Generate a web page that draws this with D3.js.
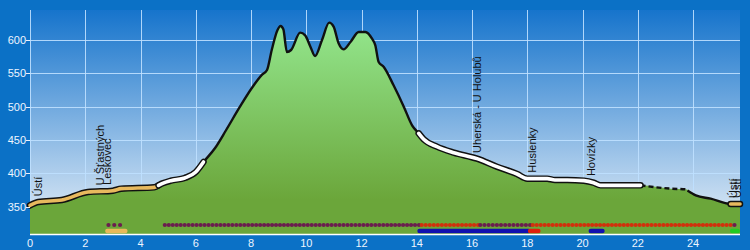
<!DOCTYPE html>
<html>
<head>
<meta charset="utf-8">
<script src="https://cdn.jsdelivr.net/npm/d3@7"></script>
<style>
  body { margin: 0; background: #0b71c6; }
  svg { display: block; font-family: "Liberation Sans", Arial, sans-serif; }
</style>
</head>
<body>
<svg id="chart" width="750" height="250"></svg>
<script>
// profile: distance (km) / elevation (m)
const distKm = [0, 0.3, 1.15, 2.1, 3.0, 3.3, 4.5, 4.8, 5.1, 5.6, 6.0, 6.28, 6.7, 7.1, 7.6, 8.03, 8.4, 8.58, 8.75, 8.96, 9.07, 9.17, 9.3, 9.45, 9.78, 9.96, 10.15, 10.32, 10.57, 10.83, 10.99, 11.17, 11.35, 11.6, 11.9, 12.14, 12.38, 12.5, 12.62, 12.8, 13.16, 13.53, 13.83, 14.07, 14.25, 14.73, 15.34, 16.18, 16.9, 17.63, 18.0, 18.72, 19.0, 19.45, 20.05, 20.4, 20.65, 22.1, 23.2, 23.73, 24.1, 24.64, 25.36, 25.7];
const elevM  = [352, 357, 360, 372, 374, 377, 379, 385, 389, 393, 402, 417, 438, 465, 500, 528, 548, 555, 585, 615, 621, 616, 582, 585, 611, 607, 590, 576, 600, 626, 620, 595, 586, 597, 612, 612, 602, 592, 567, 560, 532, 500, 472, 460, 451, 440, 431, 422, 410, 399, 392, 392, 390, 390, 389, 386, 382, 382, 377, 376, 367, 362, 354, 354];

// highlighted parts of the line
const lineFrom = [0, 4.65, 14.07, 25.36];
const lineTo   = [4.65, 6.28, 22.1, 25.7];
const lineKind = ["tan", "white", "white", "tan"];
const dashFrom = 22.1, dashTo = 23.8;

// waypoint labels
const placeNames = ["Ústí", "U Šťastných", "Leskovec", "Uherská - U Holubů", "Huslenky", "Hovízky", "Ústí", "Ústí"];
const placeKm    = [0.28, 2.55, 2.8, 16.2, 18.17, 20.3, 25.45, 25.58];

// dotted row
const dotFrom  = [2.84, 4.88, 14.18, 16.3, 18.2, 25.5];
const dotTo    = [3.26, 14.08, 16.22, 18.1, 25.36, 25.5];
const dotColor = ["#6b1d4f", "#6b1d4f", "#d2300c", "#6b1d4f", "#d2300c", "#6b1d4f"];

// bar row
const barFrom  = [2.8, 14.1, 18.1, 20.3, 25.42];
const barTo    = [3.45, 18.05, 18.4, 20.72, 25.62];
const barColor = ["#e8b95a", "#1111b0", "#e0200c", "#1111b0", "#22cc22"];

const xTicks = [0, 2, 4, 6, 8, 10, 12, 14, 16, 18, 20, 22, 24];
const yTicks = [350, 400, 450, 500, 550, 600];

const svg = d3.select("#chart");
const x = d3.scaleLinear().domain([0, 25.7]).range([30, 740]);
const y = d3.scaleLinear().domain([309, 645]).range([234, 10]);

const pts = distKm.map((d, i) => [d, elevM[i]]);
const elevAt = d3.scaleLinear().domain(distKm).range(elevM);

function slice(a, b) {
  const inner = pts.filter(p => p[0] > a && p[0] < b);
  return [[a, elevAt(a)], ...inner, [b, elevAt(b)]];
}

const defs = svg.append("defs");
const sky = defs.append("linearGradient").attr("id", "sky")
  .attr("gradientUnits", "userSpaceOnUse").attr("x1", 0).attr("x2", 0).attr("y1", 10).attr("y2", 234);
sky.append("stop").attr("offset", "0%").attr("stop-color", "#1674cc");
sky.append("stop").attr("offset", "100%").attr("stop-color", "#e8f0f8");

const grass = defs.append("linearGradient").attr("id", "grass")
  .attr("gradientUnits", "userSpaceOnUse").attr("x1", 0).attr("x2", 0).attr("y1", 25).attr("y2", 200);
grass.append("stop").attr("offset", "0%").attr("stop-color", "#93e68d");
grass.append("stop").attr("offset", "100%").attr("stop-color", "#6ba63a");

svg.append("rect").attr("width", 750).attr("height", 250).attr("fill", "#0b71c6");
svg.append("rect").attr("x", 30).attr("y", 10).attr("width", 710).attr("height", 224).attr("fill", "url(#sky)");

// grid
const grid = svg.append("g").attr("stroke", "#bfe0ff").attr("stroke-opacity", 0.9).attr("stroke-width", 1);
grid.selectAll(".v").data(xTicks).enter().append("line")
  .attr("x1", d => Math.round(x(d)) + 0.5).attr("x2", d => Math.round(x(d)) + 0.5)
  .attr("y1", 10).attr("y2", 234);
grid.selectAll(".h").data(yTicks).enter().append("line")
  .attr("x1", 30).attr("x2", 740)
  .attr("y1", d => Math.round(y(d)) + 0.5).attr("y2", d => Math.round(y(d)) + 0.5);

// terrain
const area = d3.area().x(d => x(d[0])).y0(234).y1(d => y(d[1])).curve(d3.curveMonotoneX);
svg.append("path").datum(pts).attr("d", area).attr("fill", "url(#grass)");

const line = d3.line().x(d => x(d[0])).y(d => y(d[1])).curve(d3.curveMonotoneX);

// base line (solid except dashed stretch)
[[0, dashFrom], [dashTo, 25.7]].forEach(r => {
  svg.append("path").datum(slice(r[0], r[1])).attr("d", line)
    .attr("fill", "none").attr("stroke", "#111").attr("stroke-width", 2.4).attr("stroke-linejoin", "round");
});
svg.append("path").datum(slice(dashFrom, dashTo)).attr("d", line)
  .attr("fill", "none").attr("stroke", "#111").attr("stroke-width", 2.4).attr("stroke-dasharray", "5,3");

// highlighted stretches
lineFrom.forEach((a, i) => {
  const seg = slice(a, lineTo[i]);
  svg.append("path").datum(seg).attr("d", line)
    .attr("fill", "none").attr("stroke", "#111").attr("stroke-width", 6.5)
    .attr("stroke-linejoin", "round").attr("stroke-linecap", "round");
  svg.append("path").datum(seg).attr("d", line)
    .attr("fill", "none").attr("stroke", lineKind[i] === "tan" ? "#e8b95e" : "#ffffff")
    .attr("stroke-width", 3.6).attr("stroke-linejoin", "round").attr("stroke-linecap", "round");
});

// dots
const step = 0.142;
const dots = [];
dotFrom.forEach((a, i) => {
  const n = Math.floor((dotTo[i] - a) / step + 1e-6) + 1;
  for (let k = 0; k < n; k++) {
    dots.push({ km: n === 1 ? a : a + (dotTo[i] - a) * k / (n - 1), c: dotColor[i] });
  }
});
svg.append("g").selectAll("circle").data(dots).enter().append("circle")
  .attr("cx", d => x(d.km)).attr("cy", 225).attr("r", 2.1).attr("fill", d => d.c);

svg.append("g").selectAll("line").data(barFrom).enter().append("line")
  .attr("x1", d => x(d)).attr("x2", (d, i) => x(barTo[i]))
  .attr("y1", 231).attr("y2", 231)
  .attr("stroke", (d, i) => barColor[i]).attr("stroke-width", 4.5).attr("stroke-linecap", "round");

// axes
svg.append("line").attr("x1", 30).attr("x2", 740).attr("y1", 234.5).attr("y2", 234.5)
  .attr("stroke", "#ffffff").attr("stroke-width", 1.5);

const yAxis = svg.append("g");
yAxis.selectAll("line").data(yTicks).enter().append("line")
  .attr("x1", 26).attr("x2", 30)
  .attr("y1", d => Math.round(y(d)) + 0.5).attr("y2", d => Math.round(y(d)) + 0.5)
  .attr("stroke", "#e8f2ff");
yAxis.selectAll("text").data(yTicks).enter().append("text")
  .attr("x", 26).attr("y", d => y(d)).attr("dy", "0.36em")
  .attr("text-anchor", "end").attr("font-size", 11).attr("fill", "#eef5ff")
  .text(d => d);

svg.append("g").selectAll("text").data(xTicks).enter().append("text")
  .attr("x", d => x(d)).attr("y", 247)
  .attr("text-anchor", "middle").attr("font-size", 11).attr("fill", "#eef5ff")
  .text(d => d);

// place labels
svg.append("g").selectAll("text").data(placeNames).enter().append("text")
  .attr("transform", (d, i) => `translate(${x(placeKm[i])},${y(elevAt(placeKm[i])) - 6}) rotate(-90)`)
  .attr("dy", "0.35em").attr("font-size", 11).attr("fill", "#111")
  .text(d => d);
</script>
</body>
</html>
